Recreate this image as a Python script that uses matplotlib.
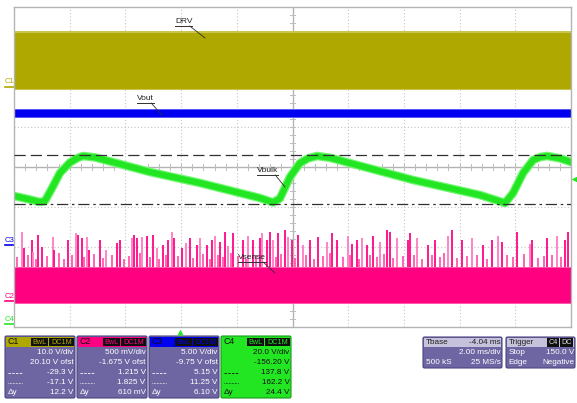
import numpy as np
import matplotlib
matplotlib.use('Agg')
import matplotlib.pyplot as plt
from matplotlib.patches import FancyBboxPatch, Rectangle
from matplotlib.transforms import blended_transform_factory

plt.rcParams['font.family'] = ['Liberation Sans', 'DejaVu Sans']

# scope settings
vdiv = {'C1': 10.0, 'C2': 0.5, 'C3': 5.0, 'C4': 20.0}
ofst = {'C1': 20.10, 'C2': -1.675, 'C3': -9.75, 'C4': -156.20}
ch_color = {'C1': '#aea800', 'C2': '#ff0080', 'C3': '#0000f0', 'C4': '#22e622'}
ms_per_div = 2.0

# DRV (C1) and Vout (C3) envelopes in volts
drv_lo, drv_hi = -0.6, 13.4
vout_lo, vout_hi = 16.0, 16.9

# Vbulk (C4): time in ms, volts
vbulk_t = [0.0, 0.4, 0.93, 1.11, 1.36, 1.65, 2.01, 2.3, 2.48, 2.91, 4.88, 6.68,
           8.83, 9.30, 9.55, 9.91, 10.27, 10.56, 10.88, 11.35, 14.33, 16.73,
           17.63, 17.92, 18.28, 18.64, 18.9, 19.14, 19.61, 20.0]
vbulk_v = [141.7, 140.5, 138.7, 139.2, 145.5, 153.2, 158.5, 160.8, 161.7, 161.0,
           153.7, 148.2, 140.7, 138.5, 140.5, 151.2, 158.2, 160.5, 161.7, 160.8,
           149.7, 142.2, 138.2, 143.2, 153.2, 159.7, 161.2, 161.7, 160.5, 158.7]

# Vsense (C2) band and spikes
vsense_lo, vsense_hi = -0.02, 0.41
spike_t = [0.29, 0.36, 0.65, 0.68, 0.86, 1.01, 1.40, 1.44, 1.94, 2.23, 2.30, 2.44,
           2.62, 2.69, 3.09, 3.30, 3.70, 3.81, 4.24, 4.31, 4.42, 4.60, 4.78, 4.99,
           5.13, 5.35, 5.53, 5.67, 5.74, 6.03, 6.18, 6.32, 6.57, 6.68, 6.93, 7.11,
           7.22, 7.40, 7.58, 7.68, 7.86, 8.22, 8.40, 8.58, 8.83, 8.90, 9.08, 9.19,
           9.30, 9.48, 9.73, 9.84, 9.98, 10.20, 10.38, 10.63, 10.91, 11.24, 11.42,
           11.60, 11.99, 12.14, 12.31, 12.49, 12.67, 12.89, 13.14, 13.39, 13.50,
           13.75, 14.14, 14.22, 14.47, 14.86, 15.12, 15.58, 15.73, 16.08, 16.44,
           16.84, 17.16, 17.38, 17.52, 18.06, 18.52, 18.60, 19.14, 19.50, 19.79, 19.89]
spike_v = [0.86, 0.66, 0.76, 0.61, 0.83, 0.68, 0.80, 0.64, 0.76, 0.85, 0.83, 0.79,
           0.80, 0.64, 0.76, 0.64, 0.73, 0.76, 0.79, 0.83, 0.79, 0.80, 0.81, 0.83,
           0.66, 0.70, 0.76, 0.86, 0.79, 0.66, 0.73, 0.79, 0.70, 0.79, 0.70, 0.76,
           0.81, 0.74, 0.86, 0.69, 0.85, 0.76, 0.81, 0.76, 0.79, 0.85, 0.76, 0.86,
           0.76, 0.85, 0.89, 0.80, 0.76, 0.83, 0.70, 0.76, 0.80, 0.74, 0.85,
           0.76, 0.81, 0.71, 0.76, 0.79, 0.70, 0.81, 0.74, 0.89, 0.86,
           0.79, 0.76, 0.85, 0.79, 0.70, 0.76, 0.81, 0.89, 0.76, 0.79,
           0.70, 0.76, 0.81, 0.74, 0.86, 0.71, 0.76, 0.79, 0.81, 0.76, 0.86]
# shorter spikes between the tall ones
short_t = [0.12, 0.50, 0.78, 1.20, 1.62, 1.78, 2.10, 2.52, 2.88, 3.18, 3.52, 3.95,
           4.12, 4.52, 4.88, 5.22, 5.45, 5.88, 6.42, 6.80, 7.02, 7.32, 7.50, 7.78,
           8.05, 8.32, 8.70, 9.40, 9.60, 10.08, 10.50, 10.78, 11.10, 11.35, 11.80,
           12.05, 12.40, 12.78, 13.02, 13.28, 13.62, 13.95, 14.35, 14.65, 15.00,
           15.30, 15.45, 15.90, 16.25, 16.62, 17.00, 17.70, 17.90, 18.30, 18.80,
           19.02, 19.30, 19.65]
short_v = [0.55, 0.58, 0.52, 0.56, 0.60, 0.53, 0.57, 0.55, 0.59, 0.54, 0.58, 0.52,
           0.56, 0.60, 0.55, 0.53, 0.58, 0.56, 0.54, 0.59, 0.52, 0.57, 0.55, 0.60,
           0.56, 0.53, 0.58, 0.55, 0.59, 0.54, 0.57, 0.52, 0.56, 0.60, 0.55,
           0.58, 0.53, 0.57, 0.55, 0.59, 0.54, 0.56, 0.58, 0.52, 0.57,
           0.55, 0.60, 0.54, 0.56, 0.58, 0.53, 0.57, 0.55, 0.59, 0.54,
           0.56, 0.58, 0.55]

cursor_dash = 162.2
cursor_dashdot = 137.8
trig_level = 150.0
trig_time = 5.96

# info box texts
ch_rows = {
    'C1': ['10.0 V/div', '20.10 V ofst', '-29.3 V', '-17.1 V', '12.2 V'],
    'C2': ['500 mV/div', '-1.675 V ofst', '1.215 V', '1.825 V', '610 mV'],
    'C3': ['5.00 V/div', '-9.75 V ofst', '5.15 V', '11.25 V', '6.10 V'],
    'C4': ['20.0 V/div', '-156.20 V', '137.8 V', '162.2 V', '24.4 V'],
}


def pos(v, ch):
    return (np.asarray(v, dtype=float) + ofst[ch]) / vdiv[ch]


fig = plt.figure(figsize=(5.77, 4.03), dpi=100)
bg = fig.add_axes([0, 0, 1, 1])
bg.set_xlim(0, 577)
bg.set_ylim(403, 0)
bg.axis('off')

ax = fig.add_axes([14 / 577, 76 / 403, 557 / 577, 320 / 403])
ax.set_xlim(0, 10 * ms_per_div)
ax.set_ylim(-4, 4)
ax.set_xticks([])
ax.set_yticks([])
for s in ax.spines.values():
    s.set_color('#b4b4b4')
    s.set_linewidth(1.0)

# graticule
for i in range(1, 10):
    if i != 5:
        ax.axvline(i * ms_per_div, color='#c4c4c4', lw=0.8, ls=(0, (1, 2)), zorder=1)
for j in range(-3, 4):
    if j != 0:
        ax.axhline(j, color='#c4c4c4', lw=0.8, ls=(0, (1, 2)), zorder=1)
ax.axvline(5 * ms_per_div, color='#b4b4b4', lw=1.0, zorder=1)
ax.axhline(0, color='#b4b4b4', lw=1.0, zorder=1)
for x in np.arange(0, 20.01, 0.4):
    ax.plot([x, x], [-0.07, 0.07], color='#bdbdbd', lw=0.7, zorder=1)
for y in np.arange(-4, 4.01, 0.2):
    ax.plot([10 - 0.1, 10 + 0.1], [y, y], color='#bdbdbd', lw=0.7, zorder=1)

# traces
ax.fill_between([0, 20], pos(drv_lo, 'C1') - 0.03, pos(drv_hi, 'C1') + 0.04,
                color='#cac54e', lw=0, zorder=1.9)
ax.fill_between([0, 20], pos(drv_lo, 'C1'), pos(drv_hi, 'C1'),
                color=ch_color['C1'], lw=0, zorder=2)
ax.fill_between([0, 20], pos(vout_lo, 'C3') - 0.02, pos(vout_hi, 'C3') + 0.03,
                color='#5a5af5', lw=0, zorder=1.9)
ax.fill_between([0, 20], pos(vout_lo, 'C3'), pos(vout_hi, 'C3'),
                color=ch_color['C3'], lw=0, zorder=2)
ax.plot(vbulk_t, pos(vbulk_v, 'C4'), color='#70f570', lw=6.2,
        solid_joinstyle='round', zorder=2)
ax.plot(vbulk_t, pos(vbulk_v, 'C4'), color=ch_color['C4'], lw=4.4,
        solid_joinstyle='round', zorder=2.1)
ax.vlines(short_t, pos(vsense_hi, 'C2'), pos(short_v, 'C2'), colors='#ff3a9e',
          lw=1.1, zorder=2)
spike_cols = ['#ff80c4' if i % 3 == 0 else '#ff0f88' for i in range(len(spike_t))]
ax.vlines(spike_t, pos(vsense_hi, 'C2'), pos(spike_v, 'C2'), colors=spike_cols,
          lw=1.35, zorder=2)
ax.fill_between([0, 20], pos(vsense_lo, 'C2') - 0.04, pos(vsense_hi, 'C2') + 0.03,
                color='#ff5aae', lw=0, zorder=2.1)
ax.fill_between([0, 20], pos(vsense_lo, 'C2'), pos(vsense_hi, 'C2'),
                color=ch_color['C2'], lw=0, zorder=2.2)

# cursors
ax.axhline(pos(cursor_dash, 'C4'), color='#303030', lw=0.9, ls=(0, (9, 4)), zorder=3)
ax.axhline(pos(cursor_dashdot, 'C4'), color='#303030', lw=0.9,
           ls=(0, (9, 3, 2, 3)), zorder=3)

# ground markers at the left
lt = blended_transform_factory(ax.transAxes, ax.transData)
for ch in ['C1', 'C3', 'C2', 'C4']:
    g = max(ofst[ch] / vdiv[ch], -3.93)
    ax.plot([-0.016, 0], [g, g], color=ch_color[ch], lw=1.2, transform=lt,
            clip_on=False)
    ax.text(-0.016, g + 0.03, ch, color=ch_color[ch], fontsize=5.5, ha='left',
            va='bottom', transform=lt, clip_on=False)

# trigger markers
ax.plot([1.005], [pos(trig_level, 'C4')], marker='<', color=ch_color['C4'],
        ms=4.5, transform=lt, clip_on=False, mec='none')
bt = blended_transform_factory(ax.transData, ax.transAxes)
ax.plot([trig_time], [-0.016], marker='^', color=ch_color['C4'], ms=4.5,
        transform=bt, clip_on=False, mec='none')

# trace labels with leader lines
labels = [('DRV', 5.78, 3.525, 6.86, 3.225),
          ('Vout', 4.42, 1.60, 5.31, 1.30),
          ('Vbulk', 8.72, -0.20, 9.73, -0.50),
          ('Vsense', 8.04, -2.375, 9.37, -2.65)]
txts = []
for name, tx, ty, ex, ey in labels:
    t = ax.text(tx, ty + 0.02, name, fontsize=6, color='#202020', ha='left',
                va='bottom', zorder=5)
    txts.append((t, ty, ex, ey))

lecroy = bg.text(567, 19, 'LeCroy', fontsize=7.5, color='#505050', ha='right',
                 va='bottom')

fig.canvas.draw()
inv = ax.transData.inverted()
for t, ty, ex, ey in txts:
    bb = t.get_window_extent()
    x0 = inv.transform((bb.x0, bb.y0))[0]
    x1 = inv.transform((bb.x1, bb.y0))[0]
    ax.plot([x0, x1], [ty, ty], color='#303030', lw=0.7, zorder=5)
    ax.plot([x1 - 0.1, ex], [ty, ey], color='#303030', lw=0.6, zorder=5)
bb = lecroy.get_window_extent()
ib = bg.transData.inverted()
lx0 = ib.transform((bb.x0, bb.y0))[0]
lx1 = ib.transform((bb.x1, bb.y0))[0]
bg.plot([lx0, lx1], [20.5, 20.5], color='#505050', lw=0.8)

# info boxes
body = '#6e66a3'
edge = '#4a4482'


def box(x, y, w, h, fc, ec=edge, r=1.5):
    bg.add_patch(FancyBboxPatch((x, y), w, h,
                                boxstyle=f'round,pad=0,rounding_size={r}',
                                fc=fc, ec=ec, lw=0.8))


def tag(x, y, w, txt, fg):
    bg.add_patch(Rectangle((x, y), w, 8.5, fc='#101010', ec='none'))
    bg.text(x + w / 2, y + 4.5, txt, fontsize=5.2, color=fg, ha='center',
            va='center')


fs = 5.9
for k, (ch, x0) in enumerate(zip(['C1', 'C2', 'C3', 'C4'], [5, 77, 149, 221])):
    w = 70
    col = ch_color[ch]
    if ch == 'C4':
        box(x0, 336, w, 62, col, ec='#1a9a1a')
        fg = '#101010'
    else:
        box(x0, 336, w, 62, body)
        bg.add_patch(Rectangle((x0 + 0.6, 336.6), w - 1.2, 10.4, fc=col, ec='none'))
        fg = 'white'
    bg.text(x0 + 3, 342, ch, fontsize=6.3, color='#101010', ha='left', va='center')
    tag(x0 + 26, 337.8, 17, 'BwL', col)
    tag(x0 + 44, 337.8, 25, 'DC1M', col)
    rows = ch_rows[ch]
    for r, yy in enumerate([352.5, 362.5, 373, 383, 393]):
        bg.text(x0 + w - 1.5, yy, rows[r], fontsize=fs, color=fg, ha='right',
                va='center')
    bg.plot([x0 + 3, x0 + 17], [373, 373], color=fg, lw=0.6, ls=(0, (3, 1.5)))
    bg.plot([x0 + 3, x0 + 17], [383, 383], color=fg, lw=0.6, ls=(0, (0.8, 1)))
    bg.text(x0 + 3, 393, '\u0394y', fontsize=fs, color=fg, ha='left', va='center')

hdr = '#c6c2dc'
# timebase box
box(423, 337, 79, 31, body)
bg.add_patch(Rectangle((423.6, 337.6), 77.8, 9.6, fc=hdr, ec='none'))
bg.text(426, 342.5, 'Tbase', fontsize=fs, color='#202020', ha='left', va='center')
bg.text(501, 342.5, '-4.04 ms', fontsize=fs, color='#202020', ha='right', va='center')
bg.text(501, 353, '2.00 ms/div', fontsize=fs, color='white', ha='right', va='center')
bg.text(426, 363, '500 kS', fontsize=fs, color='white', ha='left', va='center')
bg.text(501, 363, '25 MS/s', fontsize=fs, color='white', ha='right', va='center')

# trigger box
box(506, 337, 69, 31, body)
bg.add_patch(Rectangle((506.6, 337.6), 67.8, 9.6, fc=hdr, ec='none'))
bg.text(508.5, 342.5, 'Trigger', fontsize=fs, color='#202020', ha='left', va='center')
tag(547, 338.2, 12, 'C4', '#e0e0e0')
tag(560, 338.2, 13, 'DC', '#e0e0e0')
bg.text(508.5, 353, 'Stop', fontsize=fs, color='white', ha='left', va='center')
bg.text(574, 353, '150.0 V', fontsize=fs, color='white', ha='right', va='center')
bg.text(508.5, 363, 'Edge', fontsize=fs, color='white', ha='left', va='center')
bg.text(574, 363, 'Negative', fontsize=fs, color='white', ha='right', va='center')

fig.savefig('out.png', dpi=100)
